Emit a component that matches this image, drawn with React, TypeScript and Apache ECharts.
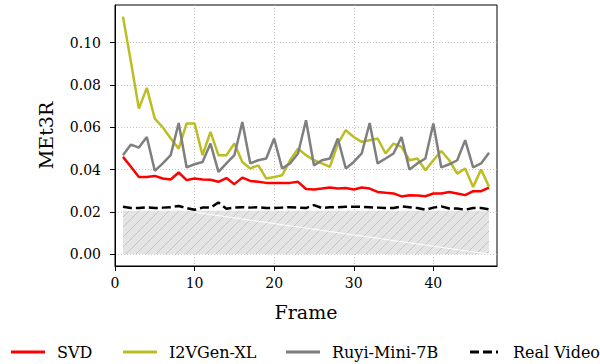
import React, { useEffect, useRef } from "react";
import * as echarts from "echarts";

const frames = [1, 2, 3, 4, 5, 6, 7, 8, 9, 10, 11, 12, 13, 14, 15, 16, 17, 18, 19, 20, 21, 22, 23, 24, 25, 26, 27, 28, 29, 30, 31, 32, 33, 34, 35, 36, 37, 38, 39, 40, 41, 42, 43, 44, 45, 46, 47];

const svd = [0.046, 0.0413, 0.0365, 0.0365, 0.037, 0.0358, 0.0353, 0.0386, 0.035, 0.0358, 0.0353, 0.0352, 0.0342, 0.036, 0.0331, 0.0362, 0.0346, 0.0342, 0.0337, 0.0337, 0.0337, 0.0337, 0.0342, 0.0308, 0.0306, 0.031, 0.0315, 0.031, 0.0313, 0.0306, 0.0315, 0.031, 0.0294, 0.029, 0.0287, 0.0273, 0.0279, 0.0277, 0.0274, 0.0287, 0.0287, 0.0294, 0.0287, 0.0279, 0.0298, 0.0298, 0.0315];

const i2vgen = [0.1123, 0.091, 0.0688, 0.0786, 0.0641, 0.06, 0.0547, 0.0499, 0.0618, 0.0618, 0.0468, 0.0578, 0.0468, 0.0468, 0.0523, 0.0436, 0.0405, 0.042, 0.0358, 0.0365, 0.0373, 0.0444, 0.0499, 0.0468, 0.0444, 0.0429, 0.0413, 0.0523, 0.0586, 0.0554, 0.0531, 0.0539, 0.0547, 0.0476, 0.0523, 0.0507, 0.0444, 0.0452, 0.0397, 0.0444, 0.0488, 0.0444, 0.0381, 0.0405, 0.0318, 0.04, 0.0318];

const ruyi = [0.0468, 0.0518, 0.0504, 0.0554, 0.0394, 0.0429, 0.0468, 0.062, 0.041, 0.0425, 0.0436, 0.0523, 0.0389, 0.0429, 0.0468, 0.0625, 0.0429, 0.0444, 0.0452, 0.0547, 0.0405, 0.0429, 0.0476, 0.0633, 0.042, 0.0444, 0.0452, 0.0547, 0.0405, 0.0436, 0.0476, 0.062, 0.0429, 0.0452, 0.0476, 0.0554, 0.04, 0.0429, 0.0452, 0.0618, 0.041, 0.0425, 0.0444, 0.0539, 0.041, 0.0429, 0.0479];

const realVideo = [0.0224, 0.0218, 0.0218, 0.0222, 0.0218, 0.022, 0.0222, 0.0228, 0.0218, 0.021, 0.022, 0.022, 0.0244, 0.0215, 0.022, 0.0222, 0.022, 0.0222, 0.0218, 0.0218, 0.022, 0.0222, 0.022, 0.0218, 0.0232, 0.0218, 0.0222, 0.0222, 0.0224, 0.0224, 0.0224, 0.0222, 0.022, 0.0218, 0.0218, 0.0226, 0.0222, 0.0218, 0.021, 0.022, 0.0226, 0.0216, 0.0216, 0.021, 0.0218, 0.0218, 0.0212];

const bandX = [1, 47];
const bandTop = 0.0205;
const streakStart = [10, 0.0198];
const streakEnd = [47, 0];

const xTicks = [0, 10, 20, 30, 40];
const yTicks = [0, 0.02, 0.04, 0.06, 0.08, 0.1];

const seriesNames = ["SVD", "I2VGen-XL", "Ruyi-Mini-7B", "Real Video"];
const seriesColors = ["#ff0000", "#bcbd22", "#7f7f7f", "#000000"];

const FONT = "'DejaVu Serif', 'Liberation Serif', serif";

function makeHatch() {
  const c = document.createElement("canvas");
  c.width = 10;
  c.height = 10;
  const ctx = c.getContext("2d")!;
  ctx.fillStyle = "#e4e4e4";
  ctx.fillRect(0, 0, 10, 10);
  ctx.strokeStyle = "#c4c4c4";
  ctx.lineWidth = 1;
  ctx.beginPath();
  ctx.moveTo(-1, 11);
  ctx.lineTo(11, -1);
  ctx.moveTo(-6, 6);
  ctx.lineTo(6, -6);
  ctx.moveTo(4, 16);
  ctx.lineTo(16, 4);
  ctx.stroke();
  return c;
}

export default function App() {
  const ref = useRef<HTMLDivElement>(null);
  useEffect(() => {
    if (!ref.current) return;
    const chart = echarts.init(ref.current, null, { renderer: "svg" });
    const pair = (arr: number[]) => frames.map((f, i) => [f, arr[i]]);
    const lineW = 2.5;

    const legendLineX = [11, 123, 286, 470];
    const legendY = 352;
    const legendGraphics: any[] = [];
    seriesNames.forEach((name, i) => {
      const x0 = legendLineX[i];
      const isDash = name === "Real Video";
      legendGraphics.push({
        type: "line",
        shape: { x1: x0, y1: legendY, x2: x0 + (isDash ? 28 : 34), y2: legendY },
        style: {
          stroke: seriesColors[i],
          lineWidth: 3,
          lineDash: isDash ? [9, 4] : null,
        },
        silent: true,
      });
      legendGraphics.push({
        type: "text",
        x: x0 + (isDash ? 43 : 46),
        y: legendY,
        style: {
          text: name,
          fontFamily: FONT,
          fontSize: 16,
          fill: "#000",
          verticalAlign: "middle",
          align: "left",
        },
        silent: true,
      });
    });

    chart.setOption({
      animation: false,
      textStyle: { fontFamily: FONT },
      grid: {
        left: 115,
        right: 103,
        top: 5,
        bottom: 98,
        show: true,
        borderColor: "#000",
        borderWidth: 1,
        backgroundColor: "transparent",
      },
      graphic: legendGraphics,
      xAxis: {
        type: "value",
        min: 0,
        max: 48,
        name: "Frame",
        nameLocation: "middle",
        nameGap: 36,
        nameTextStyle: { fontFamily: FONT, fontSize: 19, color: "#000" },
        axisLine: { show: true, onZero: false, lineStyle: { color: "#000", width: 1 } },
        axisTick: { show: true, length: 5, lineStyle: { color: "#000" }, customValues: xTicks },
        axisLabel: { fontFamily: FONT, fontSize: 14, color: "#000", margin: 10, customValues: xTicks },
        splitLine: { show: true, lineStyle: { color: "#b8b8b8", type: [1, 2], width: 0.8 } },
      },
      yAxis: {
        type: "value",
        min: -0.0056,
        max: 0.1178,
        name: "MEt3R",
        nameLocation: "middle",
        nameGap: 60,
        nameTextStyle: { fontFamily: FONT, fontSize: 19, color: "#000" },
        axisLine: { show: true, onZero: false, lineStyle: { color: "#000", width: 1 } },
        axisTick: { show: true, length: 5, lineStyle: { color: "#000" }, customValues: yTicks },
        axisLabel: {
          fontFamily: FONT,
          fontSize: 14,
          color: "#000",
          margin: 14,
          customValues: yTicks,
          formatter: (v: number) => v.toFixed(2),
        },
        splitLine: { show: true, lineStyle: { color: "#b8b8b8", type: [1, 2], width: 0.8 } },
      },
      series: [
        {
          name: "band",
          type: "line",
          data: bandX.map((x) => [x, bandTop]),
          symbol: "none",
          lineStyle: { width: 0 },
          areaStyle: {
            color: { image: makeHatch(), repeat: "repeat" },
            origin: 0,
            opacity: 1,
          },
          z: 1,
          silent: true,
        },
        {
          name: "streak",
          type: "line",
          data: [streakStart, streakEnd],
          symbol: "none",
          lineStyle: { width: 1, color: "#ffffff" },
          z: 2,
          silent: true,
        },
        {
          name: "Real Video",
          type: "line",
          data: pair(realVideo),
          symbol: "none",
          lineStyle: { width: lineW, color: seriesColors[3], type: [9, 4] },
          z: 3,
        },
        {
          name: "SVD",
          type: "line",
          data: pair(svd),
          symbol: "none",
          lineStyle: { width: lineW, color: seriesColors[0] },
          z: 4,
        },
        {
          name: "I2VGen-XL",
          type: "line",
          data: pair(i2vgen),
          symbol: "none",
          lineStyle: { width: lineW, color: seriesColors[1] },
          z: 5,
        },
        {
          name: "Ruyi-Mini-7B",
          type: "line",
          data: pair(ruyi),
          symbol: "none",
          lineStyle: { width: lineW, color: seriesColors[2] },
          z: 6,
        },
      ],
    });
    return () => chart.dispose();
  }, []);
  return (
    <div
      ref={ref}
      style={{ position: "fixed", left: 0, top: 0, width: 600, height: 364, background: "#fff" }}
    />
  );
}
